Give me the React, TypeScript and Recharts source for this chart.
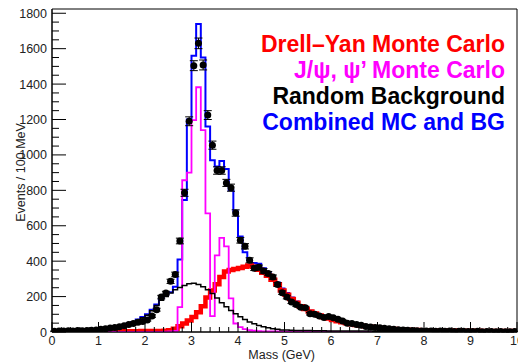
import React from 'react';
import { ComposedChart, Line, Scatter, XAxis, YAxis, ErrorBar, ReferenceArea } from 'recharts';

// Histogram bins: 100 bins of 0.1 GeV from 0 to 10 GeV
const MASS_MAX = 10;

const COMBINED = [
  8, 8, 9, 9, 9, 10, 10, 11, 12, 13,
  17, 20, 23, 27, 32, 38, 46, 57, 70, 85,
  100, 125, 155, 190, 210, 225, 255, 410, 745, 1200,
  1560, 1740, 1550, 1160, 970, 935, 965, 920, 800, 680,
  540, 450, 405, 390, 385, 360, 335, 305, 280, 245,
  220, 195, 172, 152, 135, 120, 108, 97, 88, 79,
  72, 65, 58, 52, 47, 42, 38, 34, 31, 28,
  25, 23, 21, 19, 17, 16, 15, 14, 13, 12,
  12, 11, 11, 10, 10, 10, 9, 9, 9, 9,
  8, 8, 8, 8, 8, 7, 7, 7, 7, 7,
];

const DRELL_YAN = [
  2, 2, 2, 2, 2, 2, 3, 3, 3, 3,
  3, 3, 3, 3, 3, 4, 4, 4, 4, 5,
  5, 5, 6, 6, 7, 10, 18, 32, 48, 65,
  85, 112, 145, 195, 235, 270, 310, 342, 350, 356,
  362, 368, 376, 368, 352, 335, 318, 295, 270, 235,
  210, 186, 165, 146, 130, 116, 104, 93, 84, 76,
  68, 61, 55, 49, 44, 40, 36, 32, 29, 26,
  23, 21, 19, 17, 15, 14, 13, 12, 11, 10,
  10, 9, 9, 9, 8, 8, 8, 8, 7, 7,
  7, 7, 6, 6, 6, 6, 6, 5, 5, 5,
];

const JPSI = [
  1, 1, 1, 1, 1, 1, 1, 1, 1, 1,
  1, 1, 1, 1, 1, 1, 1, 1, 1, 1,
  1, 1, 1, 1, 2, 3, 6, 140, 857, 900,
  1197, 1382, 1140, 670, 90, 433, 531, 484, 190, 48,
  28, 16, 10, 7, 5, 4, 4, 3, 3, 3,
  2, 2, 2, 2, 2, 2, 2, 2, 2, 2,
  1, 1, 1, 1, 1, 1, 1, 1, 1, 1,
  1, 1, 1, 1, 1, 1, 1, 1, 1, 1,
  1, 1, 1, 1, 1, 1, 1, 1, 1, 1,
  1, 1, 1, 1, 1, 1, 1, 1, 1, 1,
];

const BACKGROUND = [
  6, 6, 7, 7, 8, 8, 9, 9, 10, 11,
  15, 18, 21, 25, 30, 36, 44, 54, 66, 80,
  95, 120, 150, 180, 200, 220, 238, 252, 262, 272,
  275, 268, 255, 238, 218, 192, 165, 142, 122, 103,
  86, 70, 57, 46, 37, 30, 24, 19, 15, 12,
  11, 10, 9, 9, 8, 8, 7, 7, 7, 6,
  6, 6, 6, 5, 5, 5, 5, 5, 5, 4,
  4, 4, 4, 4, 4, 4, 4, 4, 4, 4,
  3, 3, 3, 3, 3, 3, 3, 3, 3, 3,
  3, 3, 3, 3, 3, 3, 3, 3, 3, 3,
];

const DATA_VALUES = [
  4, 6, 5, 7, 6, 8, 7, 9, 10, 11,
  15, 18, 22, 25, 30, 36, 42, 48, 55, 60,
  68, 90, 126, 197, 220, 286, 325, 514, 786, 1190,
  1504, 1630, 1508, 1225, 1055, 912, 912, 842, 815, 672,
  518, 484, 405, 360, 365, 345, 330, 310, 268, 222,
  197, 170, 155, 140, 137, 103, 100, 90, 82, 88,
  80, 72, 62, 50, 48, 42, 38, 31, 28, 26,
  24, 21, 18, 16, 13, 11, 10, 8, 7, 6,
  5, 6, 4, 5, 4, 5, 3, 4, 4, 3,
  3, 4, 2, 3, 3, 2, 3, 2, 2, 3,
];

const DATA_ERRORS = [
  2, 2, 2, 2, 2, 2, 2, 2, 2, 2,
  3, 3, 3, 4, 4, 4, 5, 5, 5, 5,
  6, 7, 8, 10, 10, 12, 13, 16, 20, 25,
  28, 30, 28, 25, 23, 21, 21, 20, 20, 18,
  16, 15, 14, 13, 13, 13, 12, 12, 11, 10,
  10, 9, 9, 8, 8, 7, 7, 7, 6, 7,
  6, 6, 6, 5, 5, 5, 4, 4, 4, 4,
  3, 3, 3, 3, 3, 2, 2, 2, 2, 2,
  2, 2, 2, 2, 2, 2, 2, 2, 2, 2,
  2, 2, 2, 2, 2, 2, 2, 2, 2, 2,
];

const X_MAJOR_TICKS = [0, 1, 2, 3, 4, 5, 6, 7, 8, 9, 10];
const Y_MAJOR_TICKS = [0, 200, 400, 600, 800, 1000, 1200, 1400, 1600, 1800];
const X_MINOR_PER_MAJOR = 5;
const Y_MINOR_STEP = 50;
const Y_MAX = 1824;

const LEGEND_ITEMS = [
  { label: 'Drell\u2013Yan Monte Carlo', color: '#ff0000' },
  { label: 'J/\u03c8, \u03c8\u2019 Monte Carlo', color: '#ff00ff' },
  { label: 'Random Background', color: '#000000' },
  { label: 'Combined MC and BG', color: '#0000ff' },
];

const FONT = '"Liberation Sans", Arial, Helvetica, sans-serif';

// Build step-histogram points (value at left bin edge, plus final edge)
function toSteps(values: number[]) {
  const pts = values.map((v, i) => ({ m: i / 10, v }));
  pts.push({ m: MASS_MAX, v: values[values.length - 1] });
  return pts;
}

const combinedSteps = toSteps(COMBINED);
const dySteps = toSteps(DRELL_YAN);
const jpsiSteps = toSteps(JPSI);
const bgSteps = toSteps(BACKGROUND);
const dataPoints = DATA_VALUES.map((v, i) => ({ m: (2 * i + 1) / 20, v, err: DATA_ERRORS[i] }));

const xTicks: number[] = [];
for (let k = 0; k < X_MAJOR_TICKS.length - 1; k++) {
  for (let j = 0; j < X_MINOR_PER_MAJOR; j++) {
    xTicks.push(X_MAJOR_TICKS[k] + j / X_MINOR_PER_MAJOR);
  }
}
xTicks.push(X_MAJOR_TICKS[X_MAJOR_TICKS.length - 1]);

const yTicks: number[] = [];
for (let v = 0; v <= Y_MAJOR_TICKS[Y_MAJOR_TICKS.length - 1]; v += Y_MINOR_STEP) yTicks.push(v);

const XTick = (props: any) => {
  const { x, y, payload } = props;
  const val = payload.value;
  const major = X_MAJOR_TICKS.some((t) => Math.abs(t - val) < 1e-6);
  return (
    <g>
      <line x1={x} x2={x} y1={y} y2={y - (major ? 10 : 5)} stroke="#000" strokeWidth={1} />
      {major && (
        <text x={x} y={y + 13} textAnchor="middle" fontSize={12.5} fontFamily={FONT} fill="#222">
          {Math.round(val)}
        </text>
      )}
    </g>
  );
};

const YTick = (props: any) => {
  const { x, y, payload } = props;
  const val = payload.value;
  const major = Y_MAJOR_TICKS.includes(val);
  return (
    <g>
      <line x1={x} x2={x + (major ? 14 : 7)} y1={y} y2={y} stroke="#000" strokeWidth={1} />
      {major && (
        <text x={x - 5} y={y + 4.5} textAnchor="end" fontSize={12.5} fontFamily={FONT} fill="#222">
          {val}
        </text>
      )}
    </g>
  );
};

const DataDot = (props: any) => {
  const { cx, cy } = props;
  return <circle cx={cx} cy={cy} r={3.5} fill="#000" />;
};

export default function App() {
  return (
    <div style={{ position: 'absolute', left: 0, top: 0, width: 518, height: 363, background: '#fff' }}>
      <ComposedChart width={518} height={363} margin={{ top: 9, right: 1, bottom: 0, left: 0 }}>
        <XAxis
          dataKey="m"
          type="number"
          domain={[0, MASS_MAX]}
          ticks={xTicks}
          interval={0}
          height={31}
          tickSize={0}
          tickMargin={0}
          tickLine={false}
          axisLine={{ stroke: '#000', strokeWidth: 1 }}
          tick={<XTick />}
          allowDataOverflow
        />
        <YAxis
          type="number"
          domain={[0, Y_MAX]}
          ticks={yTicks}
          interval={0}
          width={52}
          tickSize={0}
          tickMargin={0}
          tickLine={false}
          axisLine={{ stroke: '#000', strokeWidth: 1 }}
          tick={<YTick />}
          allowDataOverflow
        />
        <ReferenceArea x1={0} x2={MASS_MAX} y1={0} y2={Y_MAX} fill="none" stroke="#000" strokeWidth={1} ifOverflow="visible" />
        <Line data={combinedSteps} dataKey="v" type="stepAfter" stroke="#0000ff" strokeWidth={2} dot={false} isAnimationActive={false} />
        <Line data={dySteps} dataKey="v" type="stepAfter" stroke="#ff0000" strokeWidth={4.5} dot={false} isAnimationActive={false} />
        <Line data={jpsiSteps} dataKey="v" type="stepAfter" stroke="#ff00ff" strokeWidth={1.8} dot={false} isAnimationActive={false} />
        <Line data={bgSteps} dataKey="v" type="stepAfter" stroke="#000000" strokeWidth={1.5} dot={false} isAnimationActive={false} />
        <Scatter data={dataPoints} dataKey="v" fill="#000" shape={<DataDot />} isAnimationActive={false}>
          <ErrorBar dataKey="err" direction="y" width={4} stroke="#000" strokeWidth={1} />
        </Scatter>
      </ComposedChart>
      <svg width={518} height={363} style={{ position: 'absolute', left: 0, top: 0, pointerEvents: 'none' }}>
        {LEGEND_ITEMS.map((item, i) => (
          <text key={item.label} x={505} y={52 + i * 26} textAnchor="end" fontSize={23} fontWeight="bold" fontFamily={FONT} fill={item.color}>
            {item.label}
          </text>
        ))}
        <text transform="translate(24.5,172.5) rotate(-90)" textAnchor="middle" fontSize={12.5} fontFamily={FONT} fill="#222">
          Events / 100 MeV
        </text>
        <text x={315} y={358.5} textAnchor="end" fontSize={12.5} fontFamily={FONT} fill="#222">
          Mass (GeV)
        </text>
      </svg>
    </div>
  );
}
